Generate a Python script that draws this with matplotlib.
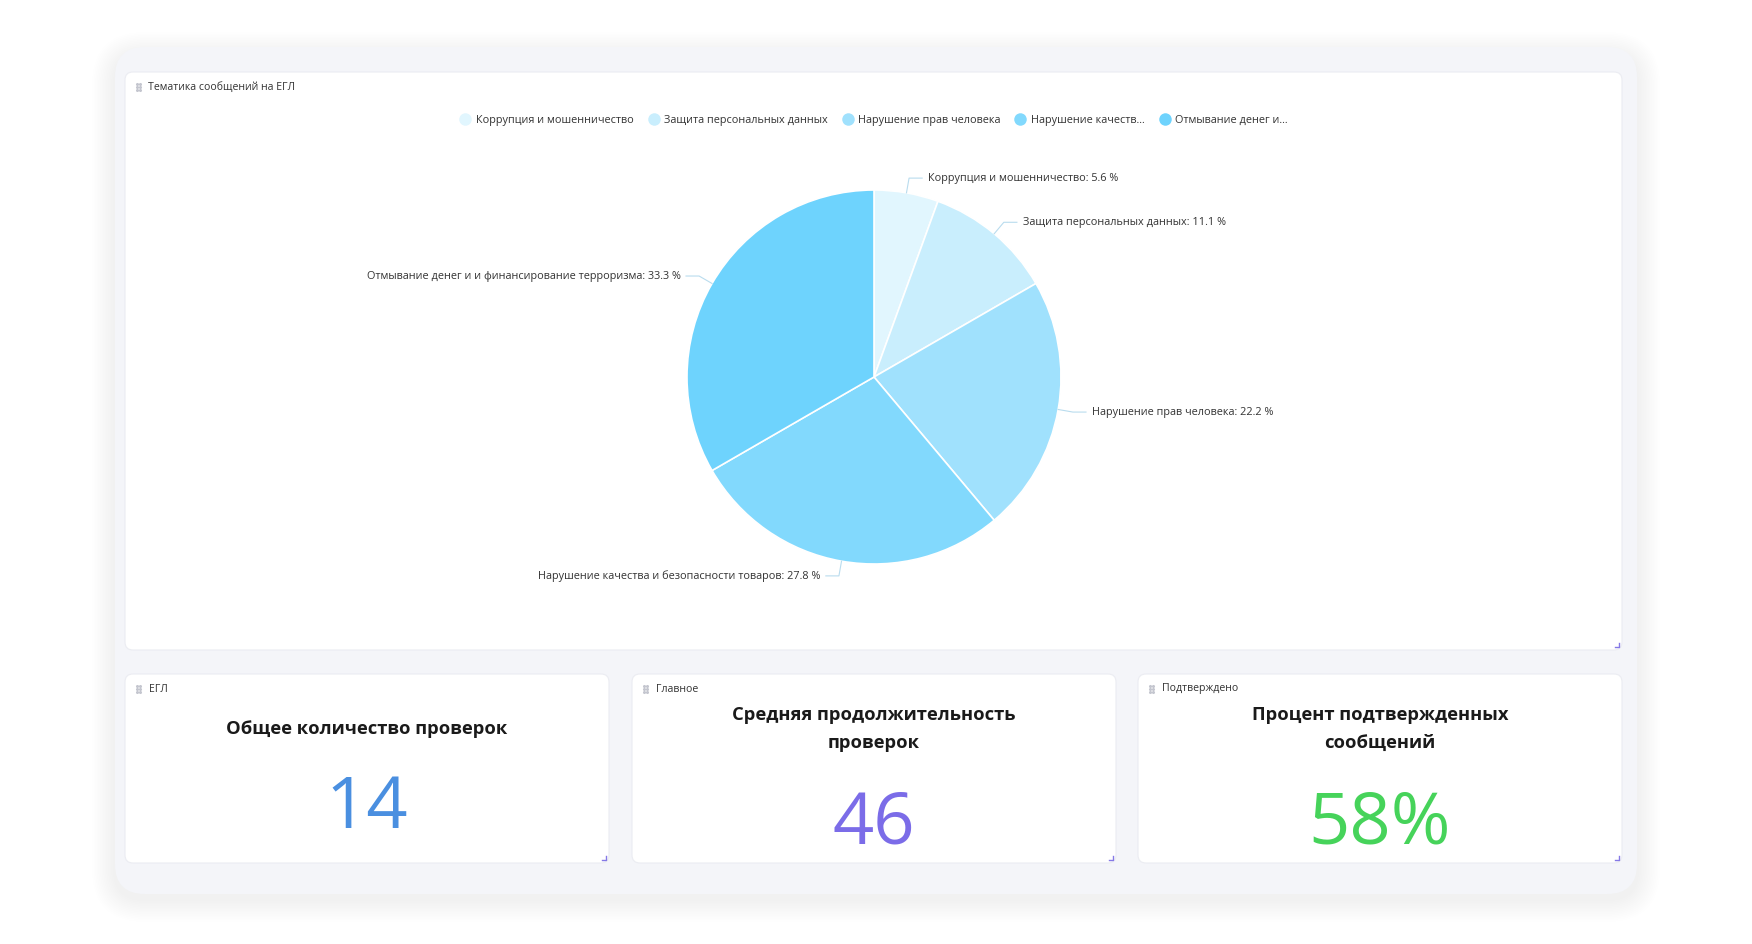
import numpy as np
import matplotlib
matplotlib.use("Agg")
import matplotlib.pyplot as plt
from matplotlib.patches import FancyBboxPatch
from matplotlib.lines import Line2D

plt.rcParams['font.family'] = ['Open Sans', 'DejaVu Sans']

W, H = 1752, 944

# pie data
categories = [
    "Коррупция и мошенничество",
    "Защита персональных данных",
    "Нарушение прав человека",
    "Нарушение качества и безопасности товаров",
    "Отмывание денег и и финансирование терроризма",
]
legend_labels = [
    "Коррупция и мошенничество",
    "Защита персональных данных",
    "Нарушение прав человека",
    "Нарушение качеств...",
    "Отмывание денег и...",
]
counts = [1, 2, 4, 5, 6]
pie_colors = ["#e1f6fe", "#c9eefd", "#a0e1fd", "#82d9fd", "#6ed3fd"]

# kpi cards
kpi_tags = ["ЕГЛ", "Главное", "Подтверждено"]
kpi_titles = ["Общее количество проверок",
              "Средняя продолжительность\nпроверок",
              "Процент подтвержденных\nсообщений"]
kpi_values = ["14", "46", "58%"]
kpi_colors = ["#4a8fe0", "#7b6ce8", "#46d35a"]


def card(ax, x, y, w, h, r=8, fc="white", ec="#ebecf2", z=2):
    p = FancyBboxPatch((x, y), w, h, boxstyle=f"round,pad=0,rounding_size={r}",
                       fc=fc, ec=ec, lw=0.8, zorder=z)
    ax.add_patch(p)


def grip(ax, x, y):
    for dx in (0, 3):
        for dy in (-3, 0, 3):
            ax.plot(x + dx, y + dy, "o", ms=1.2, color="#c4c6cf", zorder=5)


def corner(ax, x, y):
    ax.plot([x - 4, x, x], [y, y, y - 4], color="#8579e6", lw=1.0, zorder=5)


fig = plt.figure(figsize=(W / 100, H / 100), dpi=100)
fig.patch.set_facecolor("white")

bg = fig.add_axes([0, 0, 1, 1])
bg.set_xlim(0, W)
bg.set_ylim(H, 0)
bg.axis("off")

# soft shadow around outer panel
for i in range(14):
    pad = 2 + i * 1.6
    sh = FancyBboxPatch((115 - pad, 50 - pad + 5), 1522 + 2 * pad, 844 + 2 * pad,
                        boxstyle=f"round,pad=0,rounding_size={30 + pad}",
                        fc="#8a8fa8", ec="none", alpha=0.009, zorder=0)
    bg.add_patch(sh)
card(bg, 115, 47, 1522, 847, r=30, fc="#f4f5f9", ec="none", z=1)

# top card
card(bg, 125, 72, 1497, 578)
grip(bg, 137, 87)
bg.text(148, 87, "Тематика сообщений на ЕГЛ", fontsize=7.6, color="#333333",
        va="center", ha="left", zorder=5)
corner(bg, 1619, 647)

# bottom kpi cards
card_x = [125, 632, 1138]
for i in range(3):
    x0 = card_x[i]
    card(bg, x0, 674, 484, 189)
    grip(bg, x0 + 12, 689)
    bg.text(x0 + 24, 689, kpi_tags[i], fontsize=7.6, color="#333333",
            va="center", ha="left", zorder=5)
    corner(bg, x0 + 481, 860)
    cx = x0 + 242
    nlines = kpi_titles[i].count("\n") + 1
    bg.text(cx, 729, kpi_titles[i], fontsize=13.2, fontweight="bold", color="#1a1a1a",
            ha="center", va="center", linespacing=1.75, zorder=5)
    bg.text(cx, 809 + 16 * (nlines - 1), kpi_values[i], fontsize=52, fontweight="normal",
            color=kpi_colors[i], ha="center", va="center", zorder=5)

# pie
cx, cy, r = 874, 377, 187
pax = fig.add_axes([(cx - r) / W, 1 - (cy + r) / H, 2 * r / W, 2 * r / H])
wedges, _ = pax.pie(counts, colors=pie_colors, startangle=90, counterclock=False,
                    wedgeprops=dict(edgecolor="white", linewidth=1.2))
pax.set_aspect("equal")
pax.set_xlim(-1, 1)
pax.set_ylim(-1, 1)
pax.axis("off")

total = sum(counts)
for w, cat, c in zip(wedges, categories, counts):
    ang = np.deg2rad((w.theta1 + w.theta2) / 2)
    ca, sa = np.cos(ang), np.sin(ang)
    side = 1 if ca >= 0 else -1
    p0 = (1.0 * ca, 1.0 * sa)
    p1 = (1.08 * ca, 1.08 * sa)
    p2 = (p1[0] + side * 0.07, p1[1])
    pax.plot([p0[0], p1[0], p2[0]], [p0[1], p1[1], p2[1]], color="#b9dcee",
             lw=0.8, clip_on=False)
    pax.text(p2[0] + side * 0.03, p2[1], f"{cat}: {100 * c / total:.1f} %",
             fontsize=7.8, color="#333333", ha="left" if side > 0 else "right",
             va="center", clip_on=False)

# legend
handles = [Line2D([], [], marker="o", ls="none", ms=9, mfc=col, mec="none")
           for col in pie_colors]
fig.legend(handles, legend_labels, loc="center", bbox_to_anchor=(874 / W, 1 - 120 / H),
           ncol=5, frameon=False, fontsize=7.8, handletextpad=0.5,
           columnspacing=1.3, handlelength=1.0, labelcolor="#333333")

fig.savefig("out.png", dpi=100, facecolor="white")
